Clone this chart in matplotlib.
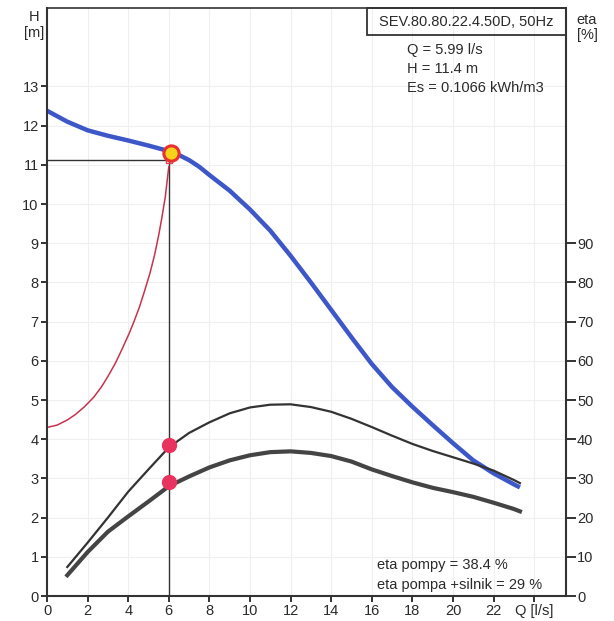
import matplotlib
matplotlib.use("Agg")
import matplotlib.pyplot as plt
from matplotlib.patches import Rectangle

# Pump curve H-Q
q_pump = [0, 1, 2, 3, 4, 5, 5.5, 6, 6.5, 7, 7.5, 8, 9, 10, 11, 12, 13, 14, 15, 16, 17, 18, 19,
          20, 21, 22, 23, 23.3]
h_pump = [12.38, 12.1, 11.88, 11.74, 11.62, 11.49, 11.42, 11.35, 11.25, 11.12, 10.95, 10.74,
          10.34, 9.86, 9.32, 8.68, 8.0, 7.3, 6.6, 5.92, 5.33, 4.83, 4.36, 3.9, 3.46, 3.13, 2.85, 2.77]

# System curve
q_sys = [0, 0.5, 1, 1.4, 1.85, 2.3, 2.69, 3.0, 3.37, 3.7, 4.05, 4.3, 4.56, 4.8, 5.07, 5.3,
         5.49, 5.65, 5.83, 6.0]
h_sys = [4.3, 4.36, 4.49, 4.63, 4.83, 5.07, 5.34, 5.6, 5.94, 6.3, 6.7, 7.02, 7.38, 7.77, 8.23,
         8.7, 9.17, 9.62, 10.19, 10.95]

# Efficiency curves [%]
q_eta = [1, 2, 3, 4, 5, 6, 7, 8, 9, 10, 11, 12, 13, 14, 15, 16, 17, 18, 19, 20, 21, 22, 23, 23.3]
eta_pompy = [7.4, 13.6, 20.0, 26.6, 32.3, 37.9, 41.6, 44.3, 46.6, 48.1, 48.8, 48.9, 48.2, 47.0,
             45.2, 43.1, 40.9, 38.8, 37.0, 35.4, 33.8, 32.0, 29.6, 28.8]
eta_total = [5.3, 11.2, 16.4, 20.3, 24.1, 28.0, 30.5, 32.8, 34.6, 35.9, 36.7, 36.9, 36.5, 35.7,
             34.3, 32.3, 30.6, 29.0, 27.6, 26.5, 25.3, 23.8, 22.2, 21.6]

# Operating point
q_op = 5.99
h_op = 11.4
h_line = 11.13
eta_op_pompy = 38.4
eta_op_total = 29

x_ticks = [0, 2, 4, 6, 8, 10, 12, 14, 16, 18, 20, 22, 24]
x_labels = ['0', '2', '4', '6', '8', '10', '12', '14', '16', '18', '20', '22', 'Q [l/s]']
h_ticks = list(range(0, 14))
eta_ticks = list(range(0, 100, 10))


def pump_curve_chart():

    """
    Pump characteristic: H-Q curve, system curve and efficiencies
    with the operating point marked.
    """

    plt.rcParams['font.family'] = ['Liberation Sans', 'DejaVu Sans']
    dark = '#333333'
    txt = '#2a2a2a'

    fig = plt.figure(figsize=(6.14, 6.21), dpi=100)
    ax = fig.add_axes([47 / 614, 25 / 621, 519 / 614, 588 / 621])
    ax2 = ax.twinx()

    ax.set_xlim(0, 25.57)
    ax.set_ylim(0, 15)
    ax2.set_ylim(0, 150)

    # faint grid from the printout
    ax.set_xticks(x_ticks)
    ax.set_xticklabels(x_labels)
    ax.set_yticks(h_ticks)
    ax.grid(True, color='#efefef', lw=0.8)
    ax2.set_yticks(eta_ticks)

    # operating point guide lines
    ax.plot([q_op, q_op], [0, h_line], color=dark, lw=1.0)
    ax.plot([0, q_op], [h_line, h_line], color=dark, lw=1.0)

    # curves
    ax.plot(q_sys, h_sys, color='#c8324e', lw=1.1, solid_joinstyle='round')
    ax.plot(q_pump, h_pump, color='#3d57c9', lw=3.2, solid_capstyle='butt', solid_joinstyle='round')
    ax2.plot(q_eta, eta_pompy, color='#333333', lw=1.6, solid_joinstyle='round')
    ax2.plot(q_eta, eta_total, color='#444444', lw=3.0, solid_joinstyle='round')

    # markers
    ax2.plot([q_op], [eta_op_pompy], 'o', color='#e8335e', ms=10, zorder=5)
    ax2.plot([q_op], [eta_op_total], 'o', color='#e8335e', ms=10, zorder=5)
    ax2.plot([q_op], [h_line * 10], 's', mfc='none', mec='#e04050', ms=5, mew=1, zorder=5)
    ax2.plot([q_op + 0.1], [h_op * 10 - 1], 'o', mfc='#f6d21a', mec='#e8302e', ms=11, mew=2.2, zorder=6)

    # spines and ticks
    for s in ['left', 'bottom', 'right']:
        ax.spines[s].set_linewidth(1.5)
        ax.spines[s].set_color(dark)
    ax.spines['top'].set_linewidth(1.2)
    ax.spines['top'].set_color(dark)
    for s in ax2.spines.values():
        s.set_visible(False)
    ax.tick_params(axis='x', length=4, width=1.4, pad=1.5, labelsize=10.5, colors=dark,
                   labelcolor=txt)
    ax.tick_params(axis='y', length=4, width=1.4, pad=2, labelsize=10.5, colors=dark,
                   labelcolor=txt)
    ax2.tick_params(axis='y', length=7, width=1.4, pad=1, labelsize=10.5, colors=dark,
                    labelcolor=txt)

    # type box
    box = Rectangle((0.6166, 0.954), 1 - 0.6166, 0.046, transform=ax.transAxes,
                    fill=False, ec=dark, lw=1.3, clip_on=False, zorder=7)
    ax.add_patch(box)
    ax.text(0.808, 0.977, 'SEV.80.80.22.4.50D, 50Hz', transform=ax.transAxes,
            ha='center', va='center', fontsize=10.5, color=txt)

    ax.text(0.693, 0.928, 'Q = 5.99 l/s', transform=ax.transAxes, ha='left', va='center',
            fontsize=10.5, color=txt)
    ax.text(0.693, 0.897, 'H = 11.4 m', transform=ax.transAxes, ha='left', va='center',
            fontsize=10.5, color=txt)
    ax.text(0.693, 0.864, 'Es = 0.1066 kWh/m3', transform=ax.transAxes, ha='left', va='center',
            fontsize=10.5, color=txt)

    ax.text(0.636, 0.053, 'eta pompy = 38.4 %', transform=ax.transAxes, ha='left', va='center',
            fontsize=10.5, color=txt)
    ax.text(0.636, 0.019, 'eta pompa +silnik = 29 %', transform=ax.transAxes, ha='left',
            va='center', fontsize=10.5, color=txt)

    # axis titles
    fig.text(34 / 614, 1 - 17 / 621, 'H', ha='center', va='center', fontsize=10.5, color=txt)
    fig.text(34 / 614, 1 - 33 / 621, '[m]', ha='center', va='center', fontsize=10.5, color=txt)
    fig.text(587 / 614, 1 - 20 / 621, 'eta', ha='center', va='center', fontsize=10.5, color=txt)
    fig.text(587 / 614, 1 - 35 / 621, '[%]', ha='center', va='center', fontsize=10.5, color=txt)

    fig.savefig('out.png', dpi=100)


pump_curve_chart()
